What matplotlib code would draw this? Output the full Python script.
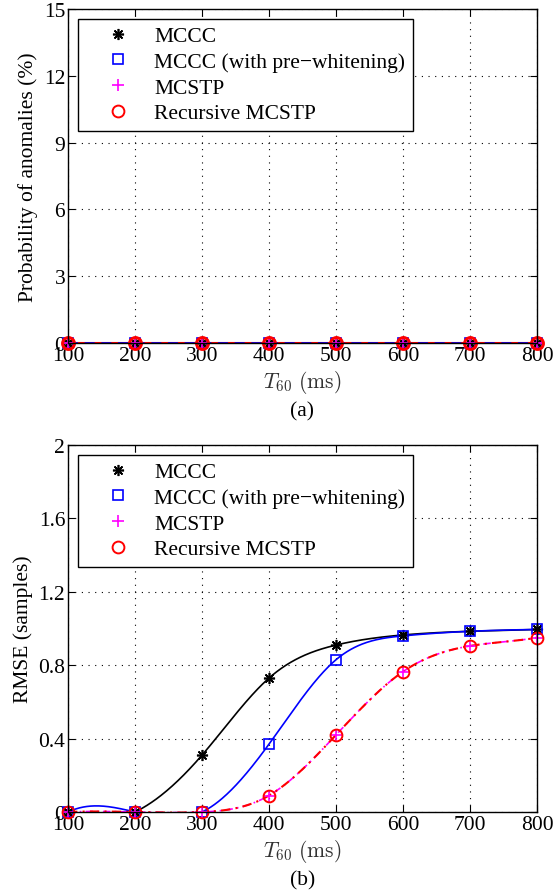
import numpy as np
import matplotlib
matplotlib.use("Agg")
import matplotlib.pyplot as plt
from matplotlib.lines import Line2D

plt.rcParams['font.family'] = ['Liberation Serif', 'DejaVu Serif']
plt.rcParams['mathtext.fontset'] = 'cm'

# data
t60 = [100, 200, 300, 400, 500, 600, 700, 800]
labels = ['MCCC', 'MCCC (with pre\u2212whitening)', 'MCSTP', 'Recursive MCSTP']

anom_mccc = [0, 0, 0, 0, 0, 0, 0, 0]
anom_mccc_pw = [0, 0, 0, 0, 0, 0, 0, 0]
anom_mcstp = [0, 0, 0, 0, 0, 0, 0, 0]
anom_rec = [0, 0, 0, 0, 0, 0, 0, 0]

rmse_mccc = [0, 0, 0.31, 0.73, 0.91, 0.965, 0.985, 0.995]
rmse_mccc_pw = [0, 0, 0, 0.37, 0.83, 0.96, 0.985, 0.995]
rmse_mcstp = [0, 0, 0, 0.09, 0.42, 0.765, 0.905, 0.95]
rmse_rec = [0, 0, 0, 0.09, 0.42, 0.765, 0.905, 0.95]

FS = 15.5


def spline(x, y, xs):
    # not-a-knot cubic spline (like matlab's spline)
    x = np.asarray(x, float)
    y = np.asarray(y, float)
    n = len(x)
    h = np.diff(x)
    A = np.zeros((n, n))
    b = np.zeros(n)
    for i in range(1, n - 1):
        A[i, i - 1] = h[i - 1]
        A[i, i] = 2 * (h[i - 1] + h[i])
        A[i, i + 1] = h[i]
        b[i] = 6 * ((y[i + 1] - y[i]) / h[i] - (y[i] - y[i - 1]) / h[i - 1])
    A[0, 0], A[0, 1], A[0, 2] = -1 / h[0], 1 / h[0] + 1 / h[1], -1 / h[1]
    A[-1, -3], A[-1, -2], A[-1, -1] = -1 / h[-2], 1 / h[-2] + 1 / h[-1], -1 / h[-1]
    M = np.linalg.solve(A, b)
    idx = np.clip(np.searchsorted(x, xs) - 1, 0, n - 2)
    x0, x1 = x[idx], x[idx + 1]
    hh = x1 - x0
    return (M[idx] * (x1 - xs) ** 3 / (6 * hh) + M[idx + 1] * (xs - x0) ** 3 / (6 * hh)
            + (y[idx] / hh - M[idx] * hh / 6) * (x1 - xs)
            + (y[idx + 1] / hh - M[idx + 1] * hh / 6) * (xs - x0))


asterisk = (8, 2, 0)
mk = dict(
    mccc=dict(color='black', marker=asterisk, markersize=8, mew=1.2),
    pw=dict(color='blue', marker='s', mfc='none', markersize=7, mew=1.2),
    stp=dict(color='magenta', marker='+', markersize=9, mew=1.2),
    rec=dict(color='red', marker='o', mfc='none', markersize=8.5, mew=1.4),
)
dashdot = (0, (4.5, 2.5, 1, 2.5))
xs = np.linspace(100, 800, 500)

fig = plt.figure(figsize=(5.53, 8.95), dpi=100)
ax1 = fig.add_axes([0.123, 0.6156, 0.848, 0.3732])
ax2 = fig.add_axes([0.123, 0.0916, 0.848, 0.410])


def style_axes(ax, yticks, ylabel, sub):
    ax.set_xlim(100, 800)
    ax.set_ylim(yticks[0], yticks[-1])
    ax.set_xticks(t60)
    ax.set_yticks(yticks)
    ax.set_yticklabels([('%g' % v) for v in yticks])
    ax.tick_params(direction='in', top=True, right=True, length=5, labelsize=FS, pad=2)
    ax.grid(True, color='black', linestyle=(0, (1, 5)), linewidth=0.8)
    for s in ax.spines.values():
        s.set_linewidth(1.0)
    ax.set_ylabel(ylabel, fontsize=FS, labelpad=4)
    ax.set_xlabel(r'$T_{60}\ \mathrm{(ms)}$', fontsize=FS, labelpad=2, color='#333333')
    ax.annotate(sub, xy=(0.5, 0), xycoords='axes fraction', xytext=(0, -49),
                textcoords='offset points', ha='center', va='center', fontsize=FS)
    handles = [Line2D([], [], linestyle='none', **mk[k]) for k in ('mccc', 'pw', 'stp', 'rec')]
    leg = ax.legend(handles, labels, loc='upper left', fontsize=FS, frameon=True, fancybox=False,
                    edgecolor='black', framealpha=1, borderpad=0.35, labelspacing=0.26,
                    handlelength=3.0, handletextpad=0.2, borderaxespad=0.45)
    leg.get_frame().set_linewidth(1.0)


# (a) probability of anomalies
ax1.plot(xs, spline(t60, anom_mccc, xs), color='black', lw=1.2)
ax1.plot(xs, spline(t60, anom_mcstp, xs), color='magenta', lw=1.2)
ax1.plot(xs, spline(t60, anom_rec, xs), color='red', lw=1.5)
ax1.plot(xs, spline(t60, anom_mccc_pw, xs), color='blue', lw=1.2, linestyle=(0, (6, 4)))
ax1.plot(t60, anom_mccc, linestyle='none', clip_on=False, **mk['mccc'])
ax1.plot(t60, anom_mccc_pw, linestyle='none', clip_on=False, **mk['pw'])
ax1.plot(t60, anom_mcstp, linestyle='none', clip_on=False, **mk['stp'])
ax1.plot(t60, anom_rec, linestyle='none', clip_on=False,
         **dict(mk['rec'], mew=2.2))
style_axes(ax1, [0, 3, 6, 9, 12, 15], 'Probability of anomalies (%)', '(a)')

# (b) RMSE
ax2.plot(xs, spline(t60, rmse_mccc, xs), color='black', lw=1.2)
ax2.plot(xs, spline(t60, rmse_mccc_pw, xs), color='blue', lw=1.2)
ax2.plot(xs, spline(t60, rmse_mcstp, xs), color='magenta', lw=1.2, linestyle=dashdot)
ax2.plot(xs, spline(t60, rmse_rec, xs), color='red', lw=1.5, linestyle=dashdot)
ax2.plot(t60, rmse_mccc, linestyle='none', clip_on=False, **mk['mccc'])
ax2.plot(t60, rmse_mccc_pw, linestyle='none', clip_on=False, **mk['pw'])
ax2.plot(t60, rmse_mcstp, linestyle='none', clip_on=False, **mk['stp'])
ax2.plot(t60, rmse_rec, linestyle='none', clip_on=False, **mk['rec'])
style_axes(ax2, [0, 0.4, 0.8, 1.2, 1.6, 2.0], 'RMSE (samples)', '(b)')

fig.savefig('out.png', dpi=100)
